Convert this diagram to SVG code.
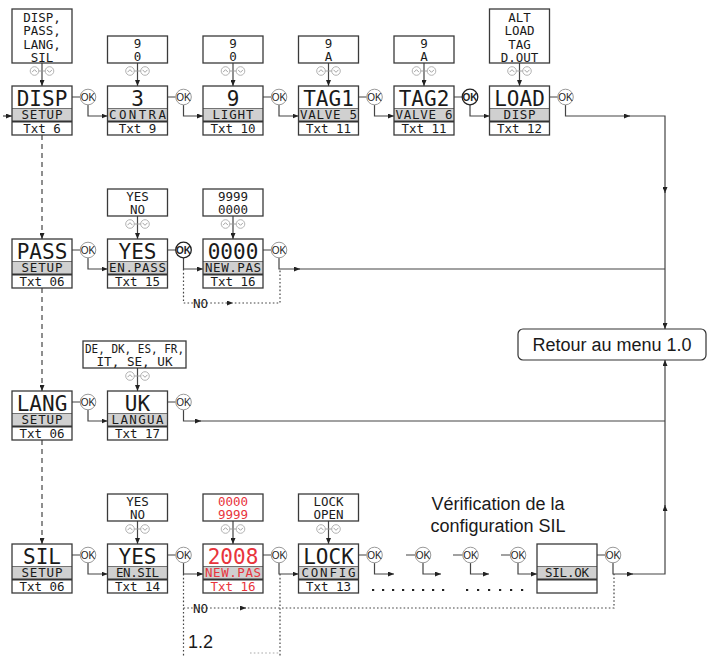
<svg xmlns="http://www.w3.org/2000/svg" xmlns:xlink="http://www.w3.org/1999/xlink" width="708" height="656" viewBox="0 0 708 656">
<style>
.bg{fill:#fff}
.ol{fill:none;stroke:#3a3a3a;stroke-width:1.3}
.band{fill:#d0d0d0}
.sep{stroke:#333;stroke-width:2}
.thin{stroke:#555;stroke-width:0.8}
.m{font-family:"DejaVu Sans Mono",monospace;font-size:21px;fill:#1a1a1a;text-anchor:middle}
.s{font-family:"DejaVu Sans Mono",monospace;font-size:12.5px;fill:#1a1a1a;text-anchor:middle}
.red{fill:#e8343c}
.okc{fill:#fff;stroke:#9a9a9a;stroke-width:1}
.okb{fill:#fff;stroke:#222;stroke-width:1.3}
.okt{font-family:"Liberation Sans",Arial,sans-serif;font-size:10px;text-anchor:middle;fill:#222}
.ln{fill:none;stroke:#444;stroke-width:1.2}
.dash{stroke-dasharray:5,4}
.dot{stroke-dasharray:1.6,2.2}
.ud circle{fill:#fff;stroke:#aaa;stroke-width:0.9}
.ud path{fill:none;stroke:#999;stroke-width:0.9}
.h{font-family:"Liberation Sans",Arial,sans-serif;fill:#1a1a1a}
</style>
<defs>
<marker id="a" viewBox="0 0 6 5" refX="6" refY="2.5" markerWidth="6" markerHeight="5" markerUnits="userSpaceOnUse" orient="auto"><path d="M0,0 L6,2.5 L0,5 z" fill="#222"/></marker>
<g id="ok"><circle class="okc" r="7.8"/><text class="okt" y="3.6">OK</text></g>
<g id="okB"><circle class="okb" r="7.8"/><text class="okt" y="3.6" font-weight="bold">OK</text></g>
<g id="udi" class="ud"><path d="M-3.5,0 H3.5"/><circle cx="-7.5" r="4.3"/><circle cx="7.5" r="4.3"/><path d="M-10,1.2 L-7.5,-1.3 L-5,1.2 M5,-1.2 L7.5,1.3 L10,-1.2"/></g>
</defs>

<!-- connectors -->
<g id="connectors" class="ln">
  <path d="M42,63 V86" marker-end="url(#a)"/>
  <path d="M137.5,63 V86" marker-end="url(#a)"/>
  <path d="M233,63 V86" marker-end="url(#a)"/>
  <path d="M328.5,63 V86" marker-end="url(#a)"/>
  <path d="M424,63 V86" marker-end="url(#a)"/>
  <path d="M519.5,63 V86" marker-end="url(#a)"/>
  <path d="M137.5,216 V239" marker-end="url(#a)"/>
  <path d="M233,216 V239" marker-end="url(#a)"/>
  <path d="M137.5,368 V391" marker-end="url(#a)"/>
  <path d="M137.5,521 V544" marker-end="url(#a)"/>
  <path d="M233,521 V544" marker-end="url(#a)"/>
  <path d="M328.5,521 V544" marker-end="url(#a)"/>

  <path d="M72,97 H80.2 M167.5,97 H175.7 M263,97 H271.2 M358.5,97 H366.7 M454,97 H462.2 M549.5,97 H557.7"/>
  <path d="M72,250 H80.2 M167.5,250 H175.7 M263,250 H271.2"/>
  <path d="M72,402 H80.2 M167.5,402 H175.7"/>
  <path d="M72,555 H80.2 M167.5,555 H175.7 M263,555 H271.2 M358.5,555 H366.7 M406,555 H415.2 M453,555 H462.7 M501,555 H510.2 M597,555 H605.2"/>

  <path d="M3,116 H12" marker-end="url(#a)"/>

  <path d="M88,104.8 V116 H107.5" marker-end="url(#a)"/>
  <path d="M183.5,104.8 V116 H203" marker-end="url(#a)"/>
  <path d="M279,104.8 V116 H298.5" marker-end="url(#a)"/>
  <path d="M374.5,104.8 V116 H394" marker-end="url(#a)"/>
  <path d="M470,104.8 V116 H489.5" marker-end="url(#a)"/>
  <path d="M565.5,104.8 V116 H630" marker-end="url(#a)"/>
  <path d="M628,116 H665 V193" marker-end="url(#a)"/>
  <path d="M665,191 V329" marker-end="url(#a)"/>

  <path d="M88,257.8 V269 H107.5" marker-end="url(#a)"/>
  <path d="M183.5,257.8 V269 H203" marker-end="url(#a)"/>
  <path d="M279,257.8 V269 H300" marker-end="url(#a)"/>
  <path d="M298,269 H665"/>
  <path class="dot" d="M183.5,269 V303 H233" marker-end="url(#a)"/>
  <path class="dot" d="M231,303 H280 V269"/>

  <path d="M88,409.8 V421 H107.5" marker-end="url(#a)"/>
  <path d="M183.5,409.8 V421 H201" marker-end="url(#a)"/>
  <path d="M199,421 H665"/>

  <path d="M88,562.8 V574 H107.5" marker-end="url(#a)"/>
  <path d="M183.5,562.8 V574 H203" marker-end="url(#a)"/>
  <path d="M279,562.8 V574 H298.5" marker-end="url(#a)"/>
  <path d="M374.5,562.8 V574 H394" marker-end="url(#a)"/>
  <path d="M423,562.8 V574 H441" marker-end="url(#a)"/>
  <path d="M470.5,562.8 V574 H489" marker-end="url(#a)"/>
  <path d="M518,562.8 V574 H537" marker-end="url(#a)"/>
  <path d="M613,562.8 V574 H633" marker-end="url(#a)"/>
  <path d="M631,574 H665 V505" marker-end="url(#a)"/>
  <path d="M665,507 V360" marker-end="url(#a)"/>

  <path class="dot" d="M183.5,574 V656"/>
  <path class="dot" d="M183.5,608 H246" marker-end="url(#a)"/>
  <path class="dot" d="M244,608 H614 V574"/>
  <path class="dot" d="M280,574 V656"/>
  <path class="dot" d="M250,653 H279" stroke="#aaa"/>

  <path class="dash" d="M42,135 V239" marker-end="url(#a)"/>
  <path class="dash" d="M42,288 V391" marker-end="url(#a)"/>
  <path class="dash" d="M42,440 V544" marker-end="url(#a)"/>

  <path d="M372,590 H445" stroke="#222" stroke-width="2.2" stroke-dasharray="2.2,7.8"/>
  <path d="M466,590 H524" stroke="#222" stroke-width="2.2" stroke-dasharray="2.2,8.8"/>
</g>

<g id="updown">
  <use xlink:href="#udi" x="42" y="71"/>
  <use xlink:href="#udi" x="137.5" y="71"/>
  <use xlink:href="#udi" x="233" y="71"/>
  <use xlink:href="#udi" x="328.5" y="71"/>
  <use xlink:href="#udi" x="424" y="71"/>
  <use xlink:href="#udi" x="519.5" y="71"/>
  <use xlink:href="#udi" x="137.5" y="224"/>
  <use xlink:href="#udi" x="233" y="224"/>
  <use xlink:href="#udi" x="137.5" y="376"/>
  <use xlink:href="#udi" x="137.5" y="529"/>
  <use xlink:href="#udi" x="233" y="529"/>
  <use xlink:href="#udi" x="328.5" y="529"/>
</g>

<g id="ok-buttons">
  <use xlink:href="#ok" x="88" y="97"/>
  <use xlink:href="#ok" x="183.5" y="97"/>
  <use xlink:href="#ok" x="279" y="97"/>
  <use xlink:href="#ok" x="374.5" y="97"/>
  <use xlink:href="#okB" x="470" y="97"/>
  <use xlink:href="#ok" x="565.5" y="97"/>
  <use xlink:href="#ok" x="88" y="250"/>
  <use xlink:href="#okB" x="183.5" y="250"/>
  <use xlink:href="#ok" x="279" y="250"/>
  <use xlink:href="#ok" x="88" y="402"/>
  <use xlink:href="#ok" x="183.5" y="402"/>
  <use xlink:href="#ok" x="88" y="555"/>
  <use xlink:href="#ok" x="183.5" y="555"/>
  <use xlink:href="#ok" x="279" y="555"/>
  <use xlink:href="#ok" x="374.5" y="555"/>
  <use xlink:href="#ok" x="423" y="555"/>
  <use xlink:href="#ok" x="470.5" y="555"/>
  <use xlink:href="#ok" x="518" y="555"/>
  <use xlink:href="#ok" x="613" y="555"/>
</g>

<g id="sel-setup1" transform="translate(12,9)">
  <rect class="bg" width="60" height="54"/><rect class="ol" width="60" height="54"/>
  <text class="s" x="30" y="12.5">DISP,</text><text class="s" x="30" y="26">PASS,</text><text class="s" x="30" y="39.5">LANG,</text><text class="s" x="30" y="53">SIL</text>
</g>
<g id="sel-contra" transform="translate(107.5,36)">
  <rect class="bg" width="60" height="27"/><rect class="ol" width="60" height="27"/>
  <text class="s" x="30" y="11.5">9</text><text class="s" x="30" y="25">0</text>
</g>
<g id="sel-light" transform="translate(203,36)">
  <rect class="bg" width="60" height="27"/><rect class="ol" width="60" height="27"/>
  <text class="s" x="30" y="11.5">9</text><text class="s" x="30" y="25">0</text>
</g>
<g id="sel-tag1" transform="translate(298.5,36)">
  <rect class="bg" width="60" height="27"/><rect class="ol" width="60" height="27"/>
  <text class="s" x="30" y="11.5">9</text><text class="s" x="30" y="25">A</text>
</g>
<g id="sel-tag2" transform="translate(394,36)">
  <rect class="bg" width="60" height="27"/><rect class="ol" width="60" height="27"/>
  <text class="s" x="30" y="11.5">9</text><text class="s" x="30" y="25">A</text>
</g>
<g id="sel-load" transform="translate(489.5,9)">
  <rect class="bg" width="60" height="54"/><rect class="ol" width="60" height="54"/>
  <text class="s" x="30" y="12.5">ALT</text><text class="s" x="30" y="26">LOAD</text><text class="s" x="30" y="39.5">TAG</text><text class="s" x="30" y="53">D.OUT</text>
</g>
<g id="sel-enpass" transform="translate(107.5,189)">
  <rect class="bg" width="60" height="27"/><rect class="ol" width="60" height="27"/>
  <text class="s" x="30" y="11.5">YES</text><text class="s" x="30" y="25">NO</text>
</g>
<g id="sel-newpas" transform="translate(203,189)">
  <rect class="bg" width="60" height="27"/><rect class="ol" width="60" height="27"/>
  <text class="s" x="30" y="11.5">9999</text><text class="s" x="30" y="25">0000</text>
</g>
<g id="sel-langua" transform="translate(83,341)">
  <rect class="bg" width="103" height="27"/><rect class="ol" width="103" height="27"/>
  <text class="s" x="51.5" y="11.5" textLength="99" lengthAdjust="spacingAndGlyphs">DE, DK, ES, FR,</text>
  <text class="s" x="51.5" y="25" textLength="76" lengthAdjust="spacingAndGlyphs">IT, SE, UK</text>
</g>
<g id="sel-ensil" transform="translate(107.5,494)">
  <rect class="bg" width="60" height="27"/><rect class="ol" width="60" height="27"/>
  <text class="s" x="30" y="11.5">YES</text><text class="s" x="30" y="25">NO</text>
</g>
<g id="sel-newpas-sil" transform="translate(203,494)">
  <rect class="bg" width="60" height="27"/><rect class="ol" width="60" height="27"/>
  <text class="s red" x="30" y="11.5">0000</text><text class="s red" x="30" y="25">9999</text>
</g>
<g id="sel-config" transform="translate(298.5,494)">
  <rect class="bg" width="60" height="27"/><rect class="ol" width="60" height="27"/>
  <text class="s" x="30" y="11.5">LOCK</text><text class="s" x="30" y="25">OPEN</text>
</g>

<g id="node-disp" transform="translate(12,86)">
  <rect class="bg" width="60" height="49"/><rect class="band" y="22.5" width="60" height="12.5"/>
  <line class="thin" x1="0" y1="22.5" x2="60" y2="22.5"/><line class="sep" x1="0" y1="35.5" x2="60" y2="35.5"/><rect class="ol" width="60" height="49"/>
  <text class="m" x="30" y="19.5">DISP</text><text class="s" x="30" y="32.8" textLength="41">SETUP</text><text class="s" x="30" y="46.8">Txt 6</text>
</g>
<g id="node-contra" transform="translate(107.5,86)">
  <rect class="bg" width="60" height="49"/><rect class="band" y="22.5" width="60" height="12.5"/>
  <line class="thin" x1="0" y1="22.5" x2="60" y2="22.5"/><line class="sep" x1="0" y1="35.5" x2="60" y2="35.5"/><rect class="ol" width="60" height="49"/>
  <text class="m" x="30" y="19.5">3</text><text class="s" x="30" y="32.8" textLength="57">CONTRA</text><text class="s" x="30" y="46.8">Txt 9</text>
</g>
<g id="node-light" transform="translate(203,86)">
  <rect class="bg" width="60" height="49"/><rect class="band" y="22.5" width="60" height="12.5"/>
  <line class="thin" x1="0" y1="22.5" x2="60" y2="22.5"/><line class="sep" x1="0" y1="35.5" x2="60" y2="35.5"/><rect class="ol" width="60" height="49"/>
  <text class="m" x="30" y="19.5">9</text><text class="s" x="30" y="32.8" textLength="41">LIGHT</text><text class="s" x="30" y="46.8">Txt 10</text>
</g>
<g id="node-tag1" transform="translate(298.5,86)">
  <rect class="bg" width="60" height="49"/><rect class="band" y="22.5" width="60" height="12.5"/>
  <line class="thin" x1="0" y1="22.5" x2="60" y2="22.5"/><line class="sep" x1="0" y1="35.5" x2="60" y2="35.5"/><rect class="ol" width="60" height="49"/>
  <text class="m" x="30" y="19.5">TAG1</text><text class="s" x="30" y="32.8" textLength="57">VALVE 5</text><text class="s" x="30" y="46.8">Txt 11</text>
</g>
<g id="node-tag2" transform="translate(394,86)">
  <rect class="bg" width="60" height="49"/><rect class="band" y="22.5" width="60" height="12.5"/>
  <line class="thin" x1="0" y1="22.5" x2="60" y2="22.5"/><line class="sep" x1="0" y1="35.5" x2="60" y2="35.5"/><rect class="ol" width="60" height="49"/>
  <text class="m" x="30" y="19.5">TAG2</text><text class="s" x="30" y="32.8" textLength="57">VALVE 6</text><text class="s" x="30" y="46.8">Txt 11</text>
</g>
<g id="node-load" transform="translate(489.5,86)">
  <rect class="bg" width="60" height="49"/><rect class="band" y="22.5" width="60" height="12.5"/>
  <line class="thin" x1="0" y1="22.5" x2="60" y2="22.5"/><line class="sep" x1="0" y1="35.5" x2="60" y2="35.5"/><rect class="ol" width="60" height="49"/>
  <text class="m" x="30" y="19.5">LOAD</text><text class="s" x="30" y="32.8" textLength="32">DISP</text><text class="s" x="30" y="46.8">Txt 12</text>
</g>

<g id="node-pass" transform="translate(12,239)">
  <rect class="bg" width="60" height="49"/><rect class="band" y="22.5" width="60" height="12.5"/>
  <line class="thin" x1="0" y1="22.5" x2="60" y2="22.5"/><line class="sep" x1="0" y1="35.5" x2="60" y2="35.5"/><rect class="ol" width="60" height="49"/>
  <text class="m" x="30" y="19.5">PASS</text><text class="s" x="30" y="32.8" textLength="41">SETUP</text><text class="s" x="30" y="46.8">Txt 06</text>
</g>
<g id="node-enpass" transform="translate(107.5,239)">
  <rect class="bg" width="60" height="49"/><rect class="band" y="22.5" width="60" height="12.5"/>
  <line class="thin" x1="0" y1="22.5" x2="60" y2="22.5"/><line class="sep" x1="0" y1="35.5" x2="60" y2="35.5"/><rect class="ol" width="60" height="49"/>
  <text class="m" x="30" y="19.5">YES</text><text class="s" x="30" y="32.8" textLength="57">EN.PASS</text><text class="s" x="30" y="46.8">Txt 15</text>
</g>
<g id="node-newpas" transform="translate(203,239)">
  <rect class="bg" width="60" height="49"/><rect class="band" y="22.5" width="60" height="12.5"/>
  <line class="thin" x1="0" y1="22.5" x2="60" y2="22.5"/><line class="sep" x1="0" y1="35.5" x2="60" y2="35.5"/><rect class="ol" width="60" height="49"/>
  <text class="m" x="30" y="19.5">0000</text><text class="s" x="30" y="32.8" textLength="56">NEW.PAS</text><text class="s" x="30" y="46.8">Txt 16</text>
</g>

<g id="node-lang" transform="translate(12,391)">
  <rect class="bg" width="60" height="49"/><rect class="band" y="22.5" width="60" height="12.5"/>
  <line class="thin" x1="0" y1="22.5" x2="60" y2="22.5"/><line class="sep" x1="0" y1="35.5" x2="60" y2="35.5"/><rect class="ol" width="60" height="49"/>
  <text class="m" x="30" y="19.5">LANG</text><text class="s" x="30" y="32.8" textLength="41">SETUP</text><text class="s" x="30" y="46.8">Txt 06</text>
</g>
<g id="node-langua" transform="translate(107.5,391)">
  <rect class="bg" width="60" height="49"/><rect class="band" y="22.5" width="60" height="12.5"/>
  <line class="thin" x1="0" y1="22.5" x2="60" y2="22.5"/><line class="sep" x1="0" y1="35.5" x2="60" y2="35.5"/><rect class="ol" width="60" height="49"/>
  <text class="m" x="30" y="19.5">UK</text><text class="s" x="30" y="32.8" textLength="52">LANGUA</text><text class="s" x="30" y="46.8">Txt 17</text>
</g>

<g id="node-sil" transform="translate(12,544)">
  <rect class="bg" width="60" height="49"/><rect class="band" y="22.5" width="60" height="12.5"/>
  <line class="thin" x1="0" y1="22.5" x2="60" y2="22.5"/><line class="sep" x1="0" y1="35.5" x2="60" y2="35.5"/><rect class="ol" width="60" height="49"/>
  <text class="m" x="30" y="19.5">SIL</text><text class="s" x="30" y="32.8" textLength="41">SETUP</text><text class="s" x="30" y="46.8">Txt 06</text>
</g>
<g id="node-ensil" transform="translate(107.5,544)">
  <rect class="bg" width="60" height="49"/><rect class="band" y="22.5" width="60" height="12.5"/>
  <line class="thin" x1="0" y1="22.5" x2="60" y2="22.5"/><line class="sep" x1="0" y1="35.5" x2="60" y2="35.5"/><rect class="ol" width="60" height="49"/>
  <text class="m" x="30" y="19.5">YES</text><text class="s" x="30" y="32.8" textLength="43">EN.SIL</text><text class="s" x="30" y="46.8">Txt 14</text>
</g>
<g id="node-newpas-sil" transform="translate(203,544)">
  <rect class="bg" width="60" height="49"/><rect class="band" y="22.5" width="60" height="12.5"/>
  <line class="thin" x1="0" y1="22.5" x2="60" y2="22.5"/><line class="sep" x1="0" y1="35.5" x2="60" y2="35.5"/><rect class="ol" width="60" height="49"/>
  <text class="m red" x="30" y="19.5">2008</text><text class="s red" x="30" y="32.8" textLength="56">NEW.PAS</text><text class="s red" x="30" y="46.8">Txt 16</text>
</g>
<g id="node-config" transform="translate(298.5,544)">
  <rect class="bg" width="60" height="49"/><rect class="band" y="22.5" width="60" height="12.5"/>
  <line class="thin" x1="0" y1="22.5" x2="60" y2="22.5"/><line class="sep" x1="0" y1="35.5" x2="60" y2="35.5"/><rect class="ol" width="60" height="49"/>
  <text class="m" x="30" y="19.5">LOCK</text><text class="s" x="30" y="32.8" textLength="54">CONFIG</text><text class="s" x="30" y="46.8">Txt 13</text>
</g>
<g id="node-silok" transform="translate(537,544)">
  <rect class="bg" width="60" height="49"/><rect class="band" y="22.5" width="60" height="12.5"/>
  <line class="thin" x1="0" y1="22.5" x2="60" y2="22.5"/><line class="sep" x1="0" y1="35.5" x2="60" y2="35.5"/><rect class="ol" width="60" height="49"/>
  <text class="s" x="30" y="32.8" textLength="44">SIL.OK</text>
</g>

<g id="node-retour">
  <rect x="518" y="329" width="188" height="31" rx="5" fill="#fff" stroke="#333" stroke-width="1.2"/>
  <text class="h" x="612" y="351" font-size="18" text-anchor="middle">Retour au menu 1.0</text>
</g>

<g id="labels">
  <text class="s" x="200.5" y="307.5">NO</text>
  <text class="s" x="200.5" y="612.5">NO</text>
  <text class="h" x="188" y="648" font-size="18">1.2</text>
  <text class="h" x="498" y="510" font-size="18" text-anchor="middle">Vérification de la</text>
  <text class="h" x="498" y="532" font-size="18" text-anchor="middle">configuration SIL</text>
</g>
</svg>
